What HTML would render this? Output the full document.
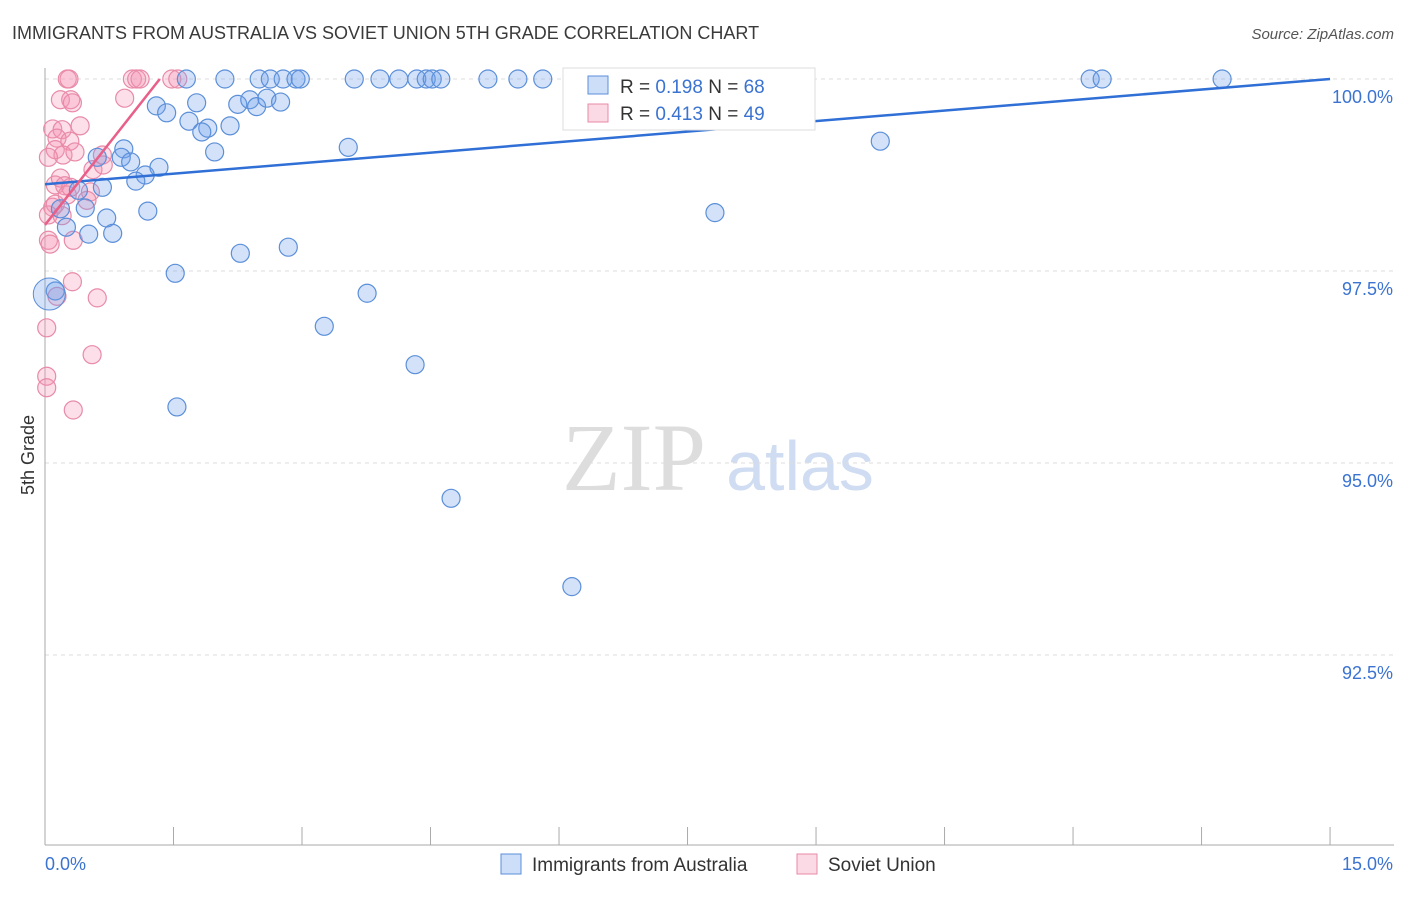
<!DOCTYPE html>
<html><head><meta charset="utf-8"><style>
body{margin:0;background:#fff;font-family:"Liberation Sans",sans-serif;}
</style></head><body>
<svg id="chart" width="1406" height="892" xmlns="http://www.w3.org/2000/svg" style="font-family:'Liberation Sans',sans-serif">
<text x="12" y="39" font-size="18" fill="#3a3a3a">IMMIGRANTS FROM AUSTRALIA VS SOVIET UNION 5TH GRADE CORRELATION CHART</text>
<text x="1394" y="39" font-size="15" fill="#555" text-anchor="end" font-style="italic">Source: ZipAtlas.com</text>
<text transform="translate(34,455) rotate(-90)" font-size="18" fill="#333" text-anchor="middle">5th Grade</text>
<g><text x="634" y="490" font-size="96" fill="#ddd" text-anchor="middle" font-family="Liberation Serif,serif">ZIP</text><text x="800" y="490" font-size="70" fill="#cfdcf2" text-anchor="middle">atlas</text></g>
<g id="grid"></g><g id="axes"></g><g id="pts"></g><g id="lines"></g>
<g>
<rect x="563" y="68" width="252" height="62" fill="#fff" stroke="#ddd"/>
<rect x="588" y="76" width="20" height="18" fill="rgba(110,160,235,0.35)" stroke="#5b8fd9"/>
<text x="620" y="93" font-size="19" fill="#333">R = <tspan fill="#3b73d1">0.198</tspan>   N = <tspan fill="#3b73d1">68</tspan></text>
<rect x="588" y="104" width="20" height="18" fill="rgba(245,150,180,0.35)" stroke="#e88aa8"/>
<text x="620" y="120" font-size="19" fill="#333">R = <tspan fill="#3b73d1">0.413</tspan>   N = <tspan fill="#3b73d1">49</tspan></text>
</g>
<g>
<rect x="501" y="854" width="20" height="20" fill="rgba(110,160,235,0.35)" stroke="#5b8fd9"/>
<text x="532" y="871" font-size="19" fill="#333">Immigrants from Australia</text>
<rect x="797" y="854" width="20" height="20" fill="rgba(245,150,180,0.35)" stroke="#e88aa8"/>
<text x="828" y="871" font-size="19" fill="#333">Soviet Union</text>
</g>
</svg>
<script>
const xTicks=[0,1.5,3,4.5,6,7.5,9,10.5,12,13.5,15];
const yTicks=[100,97.5,95,92.5];
const yTickLabels=["100.0%","97.5%","95.0%","92.5%"];
const blueX=[1.65,2.10,2.50,2.63,2.78,2.93,2.98,3.61,3.91,4.13,4.34,4.45,4.52,4.62,5.17,5.52,5.81,6.23,12.20,12.34,13.74,1.30,1.42,1.77,2.25,2.39,2.47,2.59,2.75,1.68,1.90,1.83,2.16,1.98,0.92,0.61,0.89,1.00,1.33,1.17,1.06,0.67,0.39,0.18,0.47,1.20,0.72,0.25,0.51,0.79,2.28,2.84,1.52,3.54,9.75,7.82,3.76,3.26,4.32,1.54,4.74,6.15,6.86,0.12];
const blueY=[100,100,100,100,100,100,100,100,100,100,100,100,100,100,100,100,100,100,100,100,100,99.65,99.56,99.69,99.67,99.73,99.64,99.75,99.70,99.45,99.36,99.31,99.39,99.05,99.09,98.98,98.98,98.92,98.85,98.75,98.67,98.59,98.55,98.31,98.32,98.28,98.19,98.07,97.98,97.99,97.73,97.81,97.47,99.11,99.19,98.26,97.21,96.78,96.28,95.73,94.54,93.39,99.47,97.24];
const pinkX=[0.26,0.28,1.02,1.07,1.11,1.48,1.55,0.18,0.30,0.32,0.93,0.09,0.20,0.41,0.14,0.29,0.12,0.21,0.35,0.67,0.04,0.12,0.18,0.23,0.09,0.12,0.26,0.30,0.56,0.68,0.53,0.04,0.20,0.04,0.06,0.33,0.32,0.61,0.14,0.02,0.55,0.02,0.02,0.33,0.49];
const pinkY=[100,100,100,100,100,100,100,99.73,99.73,99.69,99.75,99.35,99.34,99.39,99.23,99.19,99.08,99.01,99.05,99.01,98.98,98.62,98.71,98.61,98.33,98.37,98.49,98.59,98.82,98.88,98.53,98.23,98.22,97.90,97.85,97.90,97.36,97.15,97.17,96.76,96.41,96.13,95.98,95.69,98.42];
const blueTrend=[0,98.63,15,100];
const pinkTrend=[0,98.10,1.34,100];
const NS="http://www.w3.org/2000/svg";
const sx=v=>45+v*85.67, sy=v=>79+(100-v)*76.8;
function mk(tag,attrs,parent){const e=document.createElementNS(NS,tag);for(const k in attrs)e.setAttribute(k,attrs[k]);document.getElementById(parent).appendChild(e);return e;}
yTicks.forEach((t,i)=>{
 const l=mk('line',{x1:45,x2:1394,y1:sy(t),y2:sy(t),stroke:'#ddd','stroke-dasharray':'4,4'},'grid');
 
 
 const tx=mk('text',{x:1393,y:sy(t)+24,'font-size':18,fill:'#3b73d1','text-anchor':'end'},'axes');
 tx.textContent=yTickLabels[i];
 
 
});
const ax=mk('line',{x1:45,x2:45,y1:68,y2:845,stroke:'#aaa'},'axes');


const bx=mk('line',{x1:45,x2:1394,y1:845,y2:845,stroke:'#aaa'},'axes');


xTicks.forEach(t=>{const l=mk('line',{x1:sx(t),x2:sx(t),y1:827,y2:845,stroke:'#aaa'},'axes');
 
 });
const x0=mk('text',{x:45,y:870,'font-size':18,fill:'#3b73d1'},'axes');x0.textContent='0.0%';


const x1=mk('text',{x:1393,y:870,'font-size':18,fill:'#3b73d1','text-anchor':'end'},'axes');x1.textContent='15.0%';


pinkX.forEach((v,i)=>{const c=mk('circle',{cx:sx(v),cy:sy(pinkY[i]),r:9,fill:'rgba(245,150,180,0.3)',stroke:'#e88aa8','stroke-width':1.2},'pts');
 
 });
blueX.forEach((v,i)=>{const c=mk('circle',{cx:sx(v),cy:sy(blueY[i]),r:9,fill:'rgba(110,160,235,0.3)',stroke:'#5b8fd9','stroke-width':1.2},'pts');
 
 });
const big=mk('circle',{cx:sx(0.05),cy:sy(97.2),r:16,fill:'rgba(110,160,235,0.3)',stroke:'#5b8fd9'},'pts');


const bt=mk('line',{x1:sx(blueTrend[0]),y1:sy(blueTrend[1]),x2:sx(blueTrend[2]),y2:sy(blueTrend[3]),stroke:'#2f6fd6','stroke-width':2.5},'lines');


const pt=mk('line',{x1:sx(pinkTrend[0]),y1:sy(pinkTrend[1]),x2:sx(pinkTrend[2]),y2:sy(pinkTrend[3]),stroke:'#e8608a','stroke-width':2.5},'lines');


</script>
</body></html>
